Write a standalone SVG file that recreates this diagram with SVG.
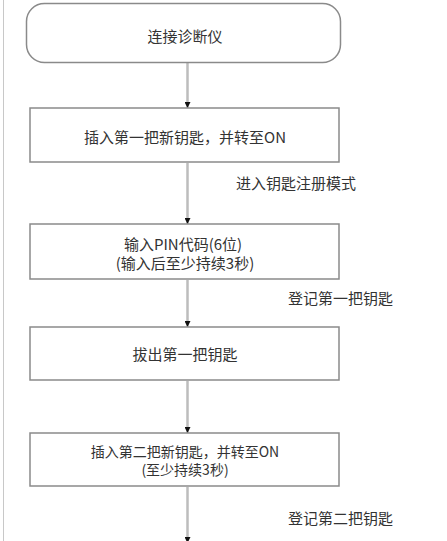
<svg xmlns="http://www.w3.org/2000/svg" width="447" height="541" viewBox="0 0 447 541">
<defs>
<style>
.box{fill:#fff;stroke:#8a8a8a;stroke-width:1.5}
.t{font-family:"Noto Sans CJK SC","Noto Sans",sans-serif;font-size:15px;fill:#333;text-anchor:middle;dominant-baseline:central}
.s{font-size:14px}
.l{font-family:"Noto Sans CJK SC","Noto Sans",sans-serif;font-size:15px;fill:#333;dominant-baseline:central}
.c{stroke:#bdbdbd;stroke-width:2.5;fill:none}
</style>
<marker id="ah" viewBox="0 0 6 6" refX="6" refY="3" markerWidth="6" markerHeight="6" markerUnits="userSpaceOnUse" orient="auto">
<path d="M0,0 L6,3 L0,6 Z" fill="#111"/>
</marker>
</defs>
<rect width="447" height="541" fill="#fff"/>
<line x1="3.5" y1="0" x2="3.5" y2="541" stroke="#c8c8c8" stroke-width="1"/>
<g id="connectors">
<line class="c" x1="187.5" y1="63" x2="187.5" y2="108" marker-end="url(#ah)"/>
<line class="c" x1="187.5" y1="163" x2="187.5" y2="224" marker-end="url(#ah)"/>
<line class="c" x1="187.5" y1="280" x2="187.5" y2="327" marker-end="url(#ah)"/>
<line class="c" x1="187.5" y1="381" x2="187.5" y2="433" marker-end="url(#ah)"/>
<line class="c" x1="187.5" y1="487" x2="187.5" y2="543" marker-end="url(#ah)"/>
<text class="l" x="236" y="182">进入钥匙注册模式</text>
<text class="l" x="288" y="297">登记第一把钥匙</text>
<text class="l" x="288" y="517">登记第二把钥匙</text>
</g>
<g id="n1">
<rect class="box" x="26.5" y="3.5" width="314" height="59" rx="18" ry="18"/>
<text class="t" x="185" y="35">连接诊断仪</text>
</g>
<g id="n2">
<rect class="box" x="30" y="108" width="309" height="54"/>
<text class="t" x="185" y="136">插入第一把新钥匙，并转至ON</text>
</g>
<g id="n3">
<rect class="box" x="30" y="224" width="309" height="55"/>
<text class="t" x="183" y="243">输入PIN代码(6位)</text>
<text class="t" x="185" y="262">(输入后至少持续3秒)</text>
</g>
<g id="n4">
<rect class="box" x="30" y="327" width="309" height="53"/>
<text class="t" x="185" y="353">拔出第一把钥匙</text>
</g>
<g id="n5">
<rect class="box" x="30" y="433" width="309" height="53"/>
<text class="t s" x="185" y="450.5">插入第二把新钥匙，并转至ON</text>
<text class="t s" x="185" y="469">(至少持续3秒)</text>
</g>
</svg>
